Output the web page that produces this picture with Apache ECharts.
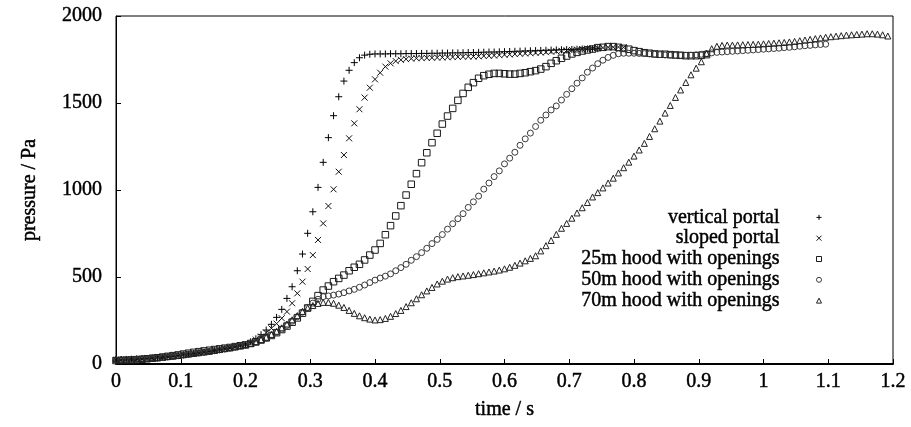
<!DOCTYPE html>
<html>
<head>
<meta charset="utf-8">
<script src="https://cdn.jsdelivr.net/npm/echarts@6/dist/echarts.min.js"></script>
<style>
  html, body { margin: 0; padding: 0; background: #fff; }
  #chart { width: 911px; height: 427px; }
</style>
</head>
<body>
<div id="chart"></div>
<script>
// sampling step of the pressure records (s)
const dt = 0.008;

const seriesNames = [
  'vertical portal',
  'sloped portal',
  '25m hood with openings',
  '50m hood with openings',
  '70m hood with openings'
];

const xTicks = [0, 0.1, 0.2, 0.3, 0.4, 0.5, 0.6, 0.7, 0.8, 0.9, 1, 1.1, 1.2];
const yTicks = [0, 500, 1000, 1500, 2000];

// pressure (Pa), one value per sample
const verticalPortal = [22,23,24,25,27,29,31,33,35,38,41,44,48,52,56,60,64,68,72,77,82,87,92,98,104,110,
  128,145,168,195,228,268,314,377,444,536,632,751,875,1015,1159,1301,1427,1536,1626,1688,1732,1760,1775,1780,1782,
  1782,1782,1783,1783,1783,1784,1784,1784,1785,1785,1786,1786,1787,1787,1788,1788,1789,1790,1790,1791,
  1792,1793,1793,1794,1795,1796,1797,1798,1799,1800,1801,1802,1803,1804,1805,1806,1807,1808,1809,1810,1811,1811,1812];

const slopedPortal = [22,23,24,25,27,29,31,33,35,38,41,44,48,52,56,60,64,68,72,77,82,87,92,98,104,110,120,
  140,158,180,205,232,263,301,349,406,473,546,626,713,808,908,1004,1105,1201,1297,1383,1464,1531,1588,1636,
  1674,1709,1728,1741,1748,1752,1755,1757,1758,1759,
  1760,1761,1762,1763,1764,1765,1766,1767,1767,1768,1770,1771,1773,1775,1777,1779,1781,1783,1785,1786,
  1788,1790,1792,1795,1797,1800,1802,1805,1807,1810,1812,1814,1816,1818,1820,1821,1822,1820];

const hood25 = [20,21,22,23,25,27,30,33,36,40,44,48,52,57,62,67,71,75,79,83,87,91,95,100,105,110,
  118,127,138,150,164,180,198,218,240,265,292,322,360,393,
  425,448,473,492,511,536,556,573,598,626,655,693,743,795,851,910,971,1033,1094,1157,
  1214,1272,1326,1379,1425,1469,1515,1555,1590,1617,1642,1657,1665,1670,1670,1668,1666,1666,1670,1674,
  1680,1686,1695,1709,
  1728,1743,1757,1770,1782,1791,1799,1805,1810,1818,1820,1824,1824,1820,1814,1809,1801,1795,1789,1786,
  1782,1780,1780,1778,1776,1774,1772,1772,1772,1774,1778];

const hood50 = [22,23,24,25,27,29,31,33,35,38,41,44,48,52,56,60,64,68,72,77,82,87,92,98,104,110,
  118,127,138,150,165,182,200,222,246,272,298,325,350,372,
  387,391,396,402,410,420,429,441,454,468,482,494,505,518,536,554,573,596,617,640,
  665,692,716,744,775,806,835,864,900,932,965,1005,1040,1077,1110,1150,1183,1217,1257,1294,
  1327,1365,1401,1431,1460,1483,1517,1550,1582,1614,1644,1677,1701,1726,1746,1762,1774,1783,1786,1786,
  1786,1785,1784,1782,1780,1778,1776,1775,1774,1774,1774,1775,1777,1780,1784,1788,1791,1793,1795,1797,
  1799,1801,1803,1805,1807,1809,1811,1813,1815,1818,1820,1823,1826,1829,1831,1834,1836,1838];

const hood70 = [28,28,29,30,31,32,34,36,38,40,43,46,49,53,57,61,65,69,73,78,83,88,93,99,105,111,
  118,128,140,154,170,188,208,230,254,278,302,322,336,348,354,354,349,338,325,308,
  291,277,266,258,253,255,262,274,290,308,330,352,375,398,420,440,460,476,488,496,
  502,506,510,514,519,524,529,534,540,547,556,567,580,593,607,622,
  650,680,710,745,780,808,838,868,898,928,960,985,1012,1040,1068,1098,1128,1160,1195,1230,
  1268,1308,1352,1396,1442,1486,1532,1575,1618,1662,1700,1737,1785,1812,1826,1831,1833,1833,1834,1835,
  1836,1837,1838,1840,1842,1844,1846,1848,1851,1854,1858,1862,1866,1870,1874,1878,1881,1884,1887,1890,
  1892,1894,1896,1898,1898,1896,1892,1885];

const allValues = [verticalPortal, slopedPortal, hood25, hood50, hood70];

const FONT = "'Liberation Serif', 'Times New Roman', serif";
const TXT = { fontFamily: FONT, fontSize: 20, color: '#000', textBorderColor: '#000', textBorderWidth: 0.45 };

const markerSpecs = [
  { symbol: 'path://M5,0L5,10M0,5L10,5', size: 7, color: '#000', legendSize: 6 },
  { symbol: 'path://M0,0L10,10M0,10L10,0', size: 6, color: '#111', legendSize: 5 },
  { symbol: 'rect', size: 6.5, color: '#1a1a1a', legendSize: 5 },
  { symbol: 'circle', size: 6, color: '#3a3a3a', legendSize: 5 },
  { symbol: 'triangle', size: 6, color: '#222', legendSize: 5 }
];

function pairs(vals) {
  return vals.map((v, i) => [+(i * dt).toFixed(4), v]);
}

const series = allValues.map((vals, k) => ({
  name: seriesNames[k],
  type: 'scatter',
  data: pairs(vals),
  symbol: markerSpecs[k].symbol,
  symbolSize: markerSpecs[k].size,
  itemStyle: { color: 'none', borderColor: markerSpecs[k].color, borderWidth: 1, opacity: 1 },
  emphasis: { disabled: true },
  animation: false
}));

const chart = echarts.init(document.getElementById('chart'), null, { renderer: 'canvas' });
chart.setOption({
  backgroundColor: '#fff',
  animation: false,
  textStyle: { fontFamily: FONT },
  grid: { left: 116, right: 18, top: 16, bottom: 63, show: true, borderColor: '#000', borderWidth: 1, backgroundColor: 'transparent' },
  legend: {
    orient: 'vertical',
    align: 'right',
    right: 87,
    top: 207,
    padding: 0,
    itemGap: 0,
    itemWidth: 5,
    itemHeight: 5,
    selectedMode: false,
    data: seriesNames.map((n, k) => ({ name: n, icon: markerSpecs[k].symbol })),
    itemStyle: { borderWidth: 1, color: 'none' },
    textStyle: Object.assign({}, TXT, { lineHeight: 20.8, padding: [0, 32, 0, 0] })
  },
  xAxis: {
    type: 'value',
    min: 0, max: 1.2, interval: 0.1,
    name: 'time / s',
    nameLocation: 'middle',
    nameGap: 36,
    nameTextStyle: TXT,
    axisLine: { lineStyle: { color: '#000', width: 2 } },
    axisTick: { inside: true, length: 5, lineStyle: { color: '#000' } },
    axisLabel: Object.assign({}, TXT, { margin: 8,
      formatter: v => { const t = xTicks.find(x => Math.abs(x - v) < 1e-6); return t === undefined ? '' : String(t); } }),
    splitLine: { show: false }
  },
  yAxis: {
    type: 'value',
    min: 0, max: 2000, interval: 500,
    name: 'pressure / Pa',
    nameLocation: 'middle',
    nameGap: 76,
    nameTextStyle: TXT,
    axisLine: { lineStyle: { color: '#000', width: 1 } },
    axisTick: { inside: true, length: 5, lineStyle: { color: '#000' } },
    axisLabel: Object.assign({}, TXT, { margin: 14,
      formatter: v => { const t = yTicks.find(y => Math.abs(y - v) < 1e-6); return t === undefined ? '' : String(t); } }),
    splitLine: { show: false }
  },
  series: series
});
</script>
</body>
</html>
